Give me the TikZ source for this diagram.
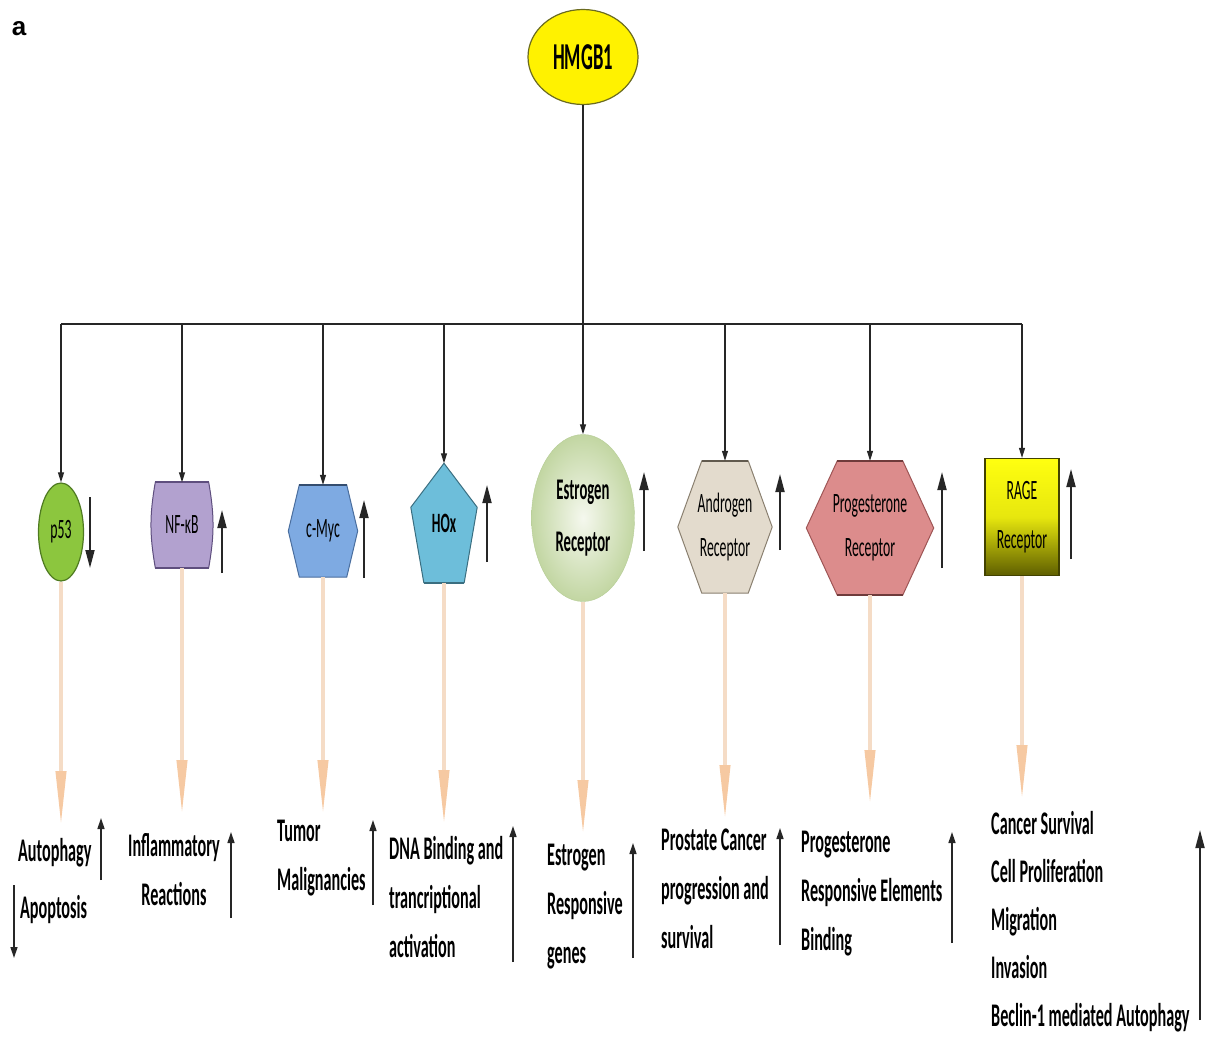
\documentclass[tikz,border=0pt]{standalone}
\usepackage{fontspec}
\newfontfamily\condfont[FakeStretch=0.49]{Carlito}
\newfontfamily\arialfont{Liberation Sans}
\usetikzlibrary{positioning,arrows.meta,shapes.geometric,backgrounds}

\definecolor{peachline}{HTML}{F5DCC6}
\definecolor{peachtip}{HTML}{F6C9A2}
\definecolor{hmgfill}{HTML}{FFF200}
\definecolor{hmgline}{HTML}{6B6B20}
\definecolor{pfill}{HTML}{8CC63E}
\definecolor{pline}{HTML}{4E7A20}
\definecolor{nffill}{HTML}{B2A1CF}
\definecolor{nfline}{HTML}{5E4E7E}
\definecolor{mycfill}{HTML}{7EAAE2}
\definecolor{mycline}{HTML}{4A6E9E}
\definecolor{hoxfill}{HTML}{6DBEDA}
\definecolor{hoxline}{HTML}{3A6E80}
\definecolor{estin}{HTML}{F5F8EE}
\definecolor{estout}{HTML}{C2D6A2}
\definecolor{estline}{HTML}{B5CC95}
\definecolor{andfill}{HTML}{E3DBCD}
\definecolor{andline}{HTML}{8A8070}
\definecolor{progfill}{HTML}{DC8C8C}
\definecolor{progline}{HTML}{9E5555}
\definecolor{ragetop}{HTML}{FFFF10}
\definecolor{ragebot}{HTML}{5E5E00}

\tikzset{
  conn/.style={-{Triangle[length=10pt,width=6pt]},line width=1.1pt,black!85},
  indbig/.style={-{Triangle[length=18pt,width=9pt]},line width=1.8pt,black!85},
  indsmall/.style={-{Triangle[length=11pt,width=7pt]},line width=1.4pt,black!85},
  peach/.style={-{Triangle[length=55pt,width=10pt,color=peachtip,fill=peachtip]},line width=4pt,peachline},
  ntxt/.style={inner sep=0pt,align=center,font=\condfont\fontsize{28}{48}\selectfont},
  otxt/.style={inner sep=0pt,align=left,anchor=west,font=\condfont\bfseries\fontsize{33}{49}\selectfont},
}

\begin{document}
\begin{tikzpicture}[x=1pt,y=-1pt]
\useasboundingbox (0,0) rectangle (1205,1039);

\node[font=\arialfont\bfseries\fontsize{26}{30}\selectfont] (panel) at (19,29) {a};

% top node
\node[ellipse,draw=hmgline,line width=1.2pt,fill=hmgfill,minimum width=110,minimum height=95,inner sep=0pt,font=\condfont\bfseries\fontsize{38}{40}\selectfont] (hmgb) at (583,57) {HMGB1};

% targets
\node[ellipse,draw=pline,line width=1.2pt,fill=pfill,minimum width=45,minimum height=98,ntxt] (p53) at (61,532) {p53};
\node[ntxt,minimum width=61,minimum height=85] (nfkb) at (182,525) {NF-κB};
\node[ntxt,minimum width=69,minimum height=92] (cmyc) at (323,531) {c-Myc};
\node[ntxt,minimum width=66,minimum height=119,font=\condfont\bfseries\fontsize{28}{48}\selectfont] (hox) at (444,523) {HOx};
\node[ellipse,draw=estline,inner color=estin,outer color=estout,minimum width=103,minimum height=167,ntxt,font=\condfont\bfseries\fontsize{30}{52}\selectfont] (estr) at (583,518) {Estrogen\\Receptor};
\node[ntxt,minimum width=94,minimum height=132,font=\condfont\fontsize{28}{44}\selectfont] (andr) at (725,527) {Androgen\\Receptor};
\node[ntxt,minimum width=127,minimum height=134,font=\condfont\fontsize{28}{44}\selectfont] (prog) at (870,528) {Progesterone\\Receptor};
\node[draw=ragebot!70!black,line width=1.2pt,top color=ragetop,bottom color=ragebot,middle color=ragetop!85!ragebot,minimum width=74,minimum height=117,ntxt,font=\condfont\fontsize{28}{49}\selectfont] (rage) at (1022,517) {RAGE\\Receptor};

\begin{scope}[on background layer]
  \path[draw=nfline,fill=nffill,line width=1pt] ([xshift=4]nfkb.north west) -- ([xshift=-4]nfkb.north east) to[bend left=10] ([xshift=-4]nfkb.south east) -- ([xshift=4]nfkb.south west) to[bend left=10] ([xshift=4]nfkb.north west) -- cycle;
  \draw[line width=2pt,nfline] ([xshift=4]nfkb.north west) -- ([xshift=-4]nfkb.north east);
  \draw[line width=2pt,nfline] ([xshift=4]nfkb.south west) -- ([xshift=-4]nfkb.south east);
  \path[draw=hoxline,fill=hoxfill,line width=1pt] (hox.north) -- ([yshift=-44]hox.north east) -- ([xshift=-13]hox.south east) -- ([xshift=13]hox.south west) -- ([yshift=-44]hox.north west) -- cycle;
  \draw[line width=2pt,hoxline] ([xshift=-13]hox.south east) -- ([xshift=13]hox.south west);
  \foreach \n/\d/\f/\l in {cmyc/11/mycfill/mycline,andr/24/andfill/andline,prog/31/progfill/progline}{
    \path[draw=\l,fill=\f,line width=1pt] ([xshift=\d]\n.north west) -- ([xshift=-\d]\n.north east) -- (\n.east) -- ([xshift=-\d]\n.south east) -- ([xshift=\d]\n.south west) -- (\n.west) -- cycle;
    \draw[line width=2.4pt,\l!70!black] ([xshift=\d]\n.north west) -- ([xshift=-\d]\n.north east);
  }
  \draw[line width=2pt,progline!70!black] ([xshift=31]prog.south west) -- ([xshift=-31]prog.south east);
\end{scope}

% bus and drops
\coordinate (bus) at (0,324);
\draw[line width=1.1pt,black!85] (p53 |- bus) -- (rage |- bus);
\draw[conn] (hmgb) -- (estr);
\foreach \n in {p53,nfkb,cmyc,hox,andr,prog,rage}
  \draw[conn] (\n |- bus) -- (\n);

% long arrows to outcomes
\foreach \n/\y in {p53/826,nfkb/815,cmyc/815,hox/825,estr/835,andr/820,prog/805,rage/800}{
  \coordinate (\n-end) at (\n |- 0,\y);
  \draw[peach] (\n) -- (\n-end);
}

% outcomes
\node[otxt] (autoph) at (18,853) {Autophagy};
\node[otxt] (apopt) at (20,910) {Apoptosis};
\node[otxt,anchor=center,align=center] (inflam) at (174,870) {Inflammatory\\Reactions};
\node[otxt] (tumor) at (277,858) {Tumor\\Malignancies};
\node[otxt] (dnabind) at (389,897) {DNA Binding and\\trancriptional\\activation};
\node[otxt] (estgenes) at (547,907) {Estrogen\\Responsive\\genes};
\node[otxt] (prost) at (661,889) {Prostate Cancer\\progression and\\survival};
\node[otxt] (progbind) at (801,894) {Progesterone\\Responsive Elements\\Binding};
\node[otxt,font=\condfont\bfseries\fontsize{33}{48}\selectfont] (rageout) at (991,922) {Cancer Survival\\Cell Proliferation\\Migration\\Invasion\\Beclin-1 mediated Autophagy};

% up / down marks
\foreach \x/\a/\b in {90/497/568,222/573/510,364/578/500,487/562/485,644/551/472,780/550/474,942/568/472,1071/559/469,1200/1020/830}
  \draw[indbig] (\x,\a) -- (\x,\b);
\foreach \x/\a/\b in {101/880/818,14/885/958,231/918/832,373/905/820,513/962/826,633/958/843,780/945/828,952/943/832}
  \draw[indsmall] (\x,\a) -- (\x,\b);
\end{tikzpicture}
\end{document}
